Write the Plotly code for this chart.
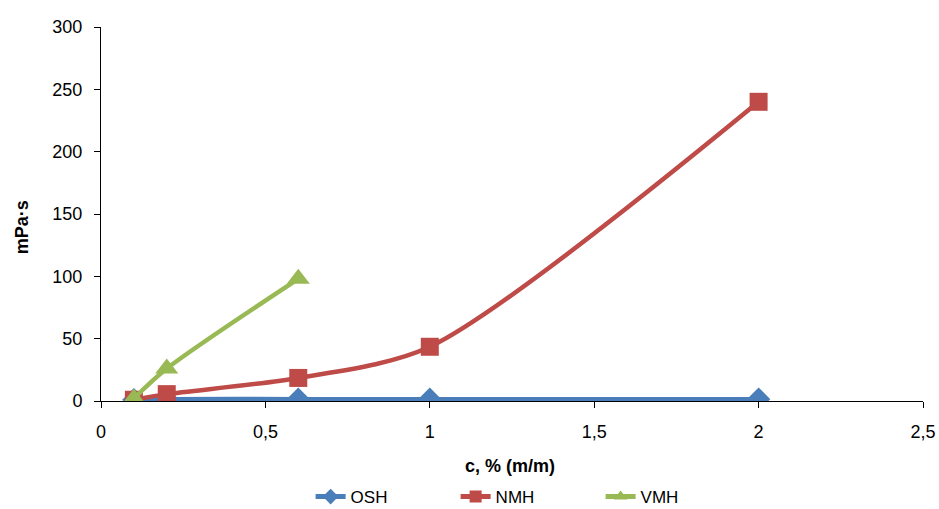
import plotly.graph_objects as go

x_osh = [0.1, 0.2, 0.6, 1, 2]
y_osh = [1, 1.5, 1.5, 1.5, 1.5]
x_nmh = [0.1, 0.2, 0.6, 1, 2]
y_nmh = [1, 5.5, 18.5, 43.5, 240]
x_vmh = [0.1, 0.2, 0.6]
y_vmh = [2, 26, 98]

x_ticks = [0, 0.5, 1, 1.5, 2, 2.5]
x_ticklabels = ["0", "0,5", "1", "1,5", "2", "2,5"]
y_ticks = [0, 50, 100, 150, 200, 250, 300]

font = "Liberation Sans, Arial, sans-serif"

fig = go.Figure()
fig.add_trace(go.Scatter(x=x_osh, y=y_osh, name="OSH", mode="lines+markers",
                         line=dict(color="#4A7EBB", width=4.5, shape="spline", smoothing=0.8),
                         marker=dict(symbol="diamond", size=18, color="#4A7EBB")))
fig.add_trace(go.Scatter(x=x_nmh, y=y_nmh, name="NMH", mode="lines+markers",
                         line=dict(color="#BE4B48", width=4.5, shape="spline", smoothing=0.8),
                         marker=dict(symbol="square", size=18, color="#BE4B48")))
fig.add_trace(go.Scatter(x=x_vmh, y=y_vmh, name="VMH", mode="lines+markers",
                         line=dict(color="#98B954", width=4.5, shape="spline", smoothing=0.8),
                         marker=dict(symbol="triangle-up", size=20, color="#98B954")))

fig.update_layout(
    width=939, height=509,
    margin=dict(l=101, r=16, t=27, b=108, autoexpand=False),
    paper_bgcolor="white", plot_bgcolor="white",
    font=dict(family=font, size=18, color="#000000"),
    showlegend=True,
    legend=dict(orientation="h", x=0.255, xanchor="left", y=-0.305, yanchor="bottom",
                font=dict(size=17), itemsizing="constant",
                entrywidth=100, entrywidthmode="pixels", tracegroupgap=0),
    xaxis=dict(range=[0, 2.5], tickvals=x_ticks, ticktext=x_ticklabels,
               showgrid=False, zeroline=False, showline=True, linecolor="#000000", linewidth=1,
               ticks="outside", ticklen=6, tickcolor="#000000", ticklabelstandoff=8,
               automargin=False),
    yaxis=dict(range=[0, 300], tickvals=y_ticks,
               showgrid=False, zeroline=False, showline=True, linecolor="#000000", linewidth=1,
               ticks="outside", ticklen=6, tickcolor="#000000", ticklabelstandoff=8,
               automargin=False),
    annotations=[
        dict(text="<b>c, % (m/m)</b>", xref="paper", yref="paper", x=0.497, y=-0.175,
             xanchor="center", yanchor="middle", showarrow=False, font=dict(size=18)),
        dict(text="<b>mPa·s</b>", xref="paper", yref="paper", x=-0.096, y=0.465,
             xanchor="center", yanchor="middle", showarrow=False, textangle=-90,
             font=dict(size=18)),
    ],
)

fig.write_html("out.html", config={"displayModeBar": False},
               post_script="document.body.style.margin='0';document.body.style.overflow='hidden';")
